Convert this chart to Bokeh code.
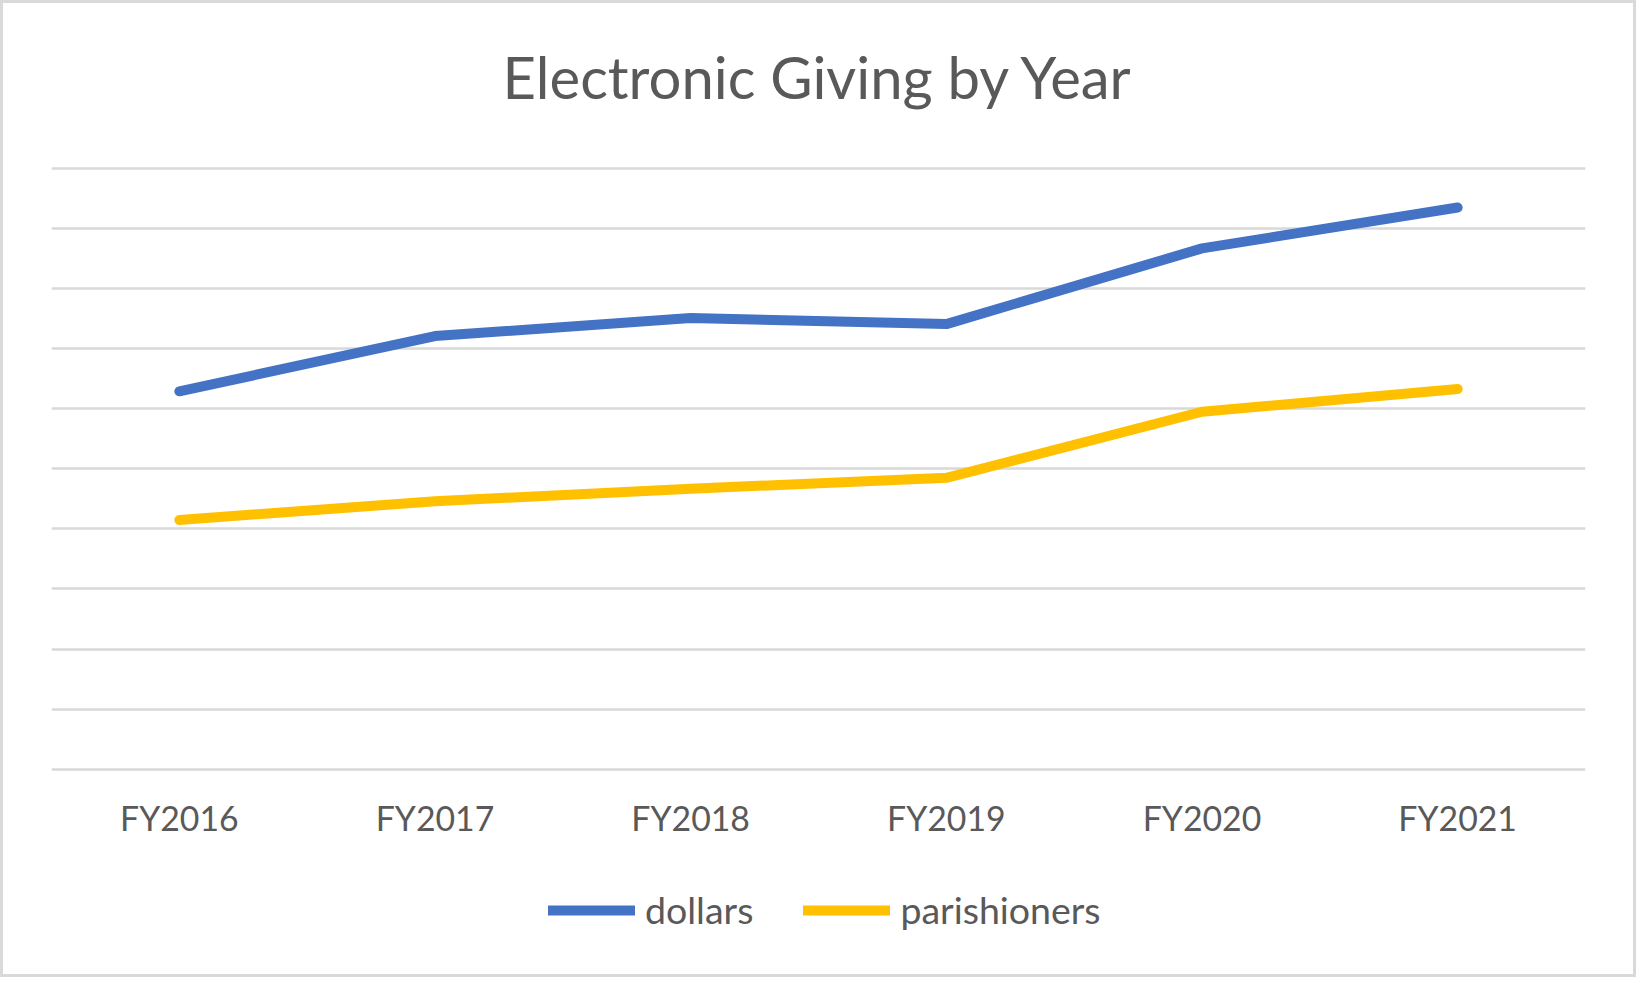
from bokeh.plotting import figure
from bokeh.models import Range1d, FactorRange, SingleIntervalTicker, Legend, LegendItem, Label
from bokeh.embed import file_html
from bokeh.resources import INLINE

years = ["FY2016", "FY2017", "FY2018", "FY2019", "FY2020", "FY2021"]
dollars = [6.29, 7.21, 7.51, 7.41, 8.67, 9.35]
parishioners = [4.15, 4.46, 4.67, 4.85, 5.95, 6.33]
title_text = "Electronic Giving by Year"

FONT = "Lato"
TXT = "#595959"

p = figure(width=1636, height=977, title=None,
           x_range=FactorRange(*years, range_padding=0),
           y_range=Range1d(-3.468, 12.797), output_backend="svg", toolbar_location=None,
           min_border_left=51, min_border_right=51, min_border_top=0, min_border_bottom=0)
p.background_fill_color = None
p.border_fill_color = None
p.outline_line_color = None
p.styles = {"background-color": "white", "box-shadow": "inset 0 0 0 3px #d9d9d9"}

p.yaxis.visible = False
p.ygrid.ticker = SingleIntervalTicker(interval=1)
p.ygrid.bounds = (0, 10)
p.ygrid.grid_line_color = "#d9d9d9"
p.ygrid.grid_line_width = 2.5
p.xgrid.grid_line_color = None

ax = p.xaxis[0]
ax.fixed_location = 0
ax.axis_line_color = None
ax.major_tick_line_color = None
ax.minor_tick_line_color = None
ax.major_tick_out = 0
ax.major_tick_in = 0
ax.major_label_standoff = 29
ax.major_label_text_font = FONT
ax.major_label_text_font_size = "33.8px"
ax.major_label_text_color = TXT

r1 = p.line(years, dollars, line_width=10, line_color="#4472C4", line_cap="round", line_join="round")
r2 = p.line(years, parishioners, line_width=10, line_color="#FFC000", line_cap="round", line_join="round")

legend = Legend(items=[LegendItem(label="dollars", renderers=[r1]),
                       LegendItem(label="parishioners", renderers=[r2])],
                orientation="horizontal", location=(497, 45),
                glyph_width=87, glyph_height=30, label_standoff=10, spacing=50,
                padding=0, margin=0, background_fill_alpha=0, border_line_color=None,
                label_text_font=FONT, label_text_font_size="37.5px", label_text_color=TXT)
p.add_layout(legend, "center")

p.add_layout(Label(x=3, y=11.54, text=title_text, text_align="center", text_baseline="alphabetic",
                   text_font=FONT, text_font_size="58px", text_color=TXT))

open("out.html", "w").write(file_html(p, INLINE))
